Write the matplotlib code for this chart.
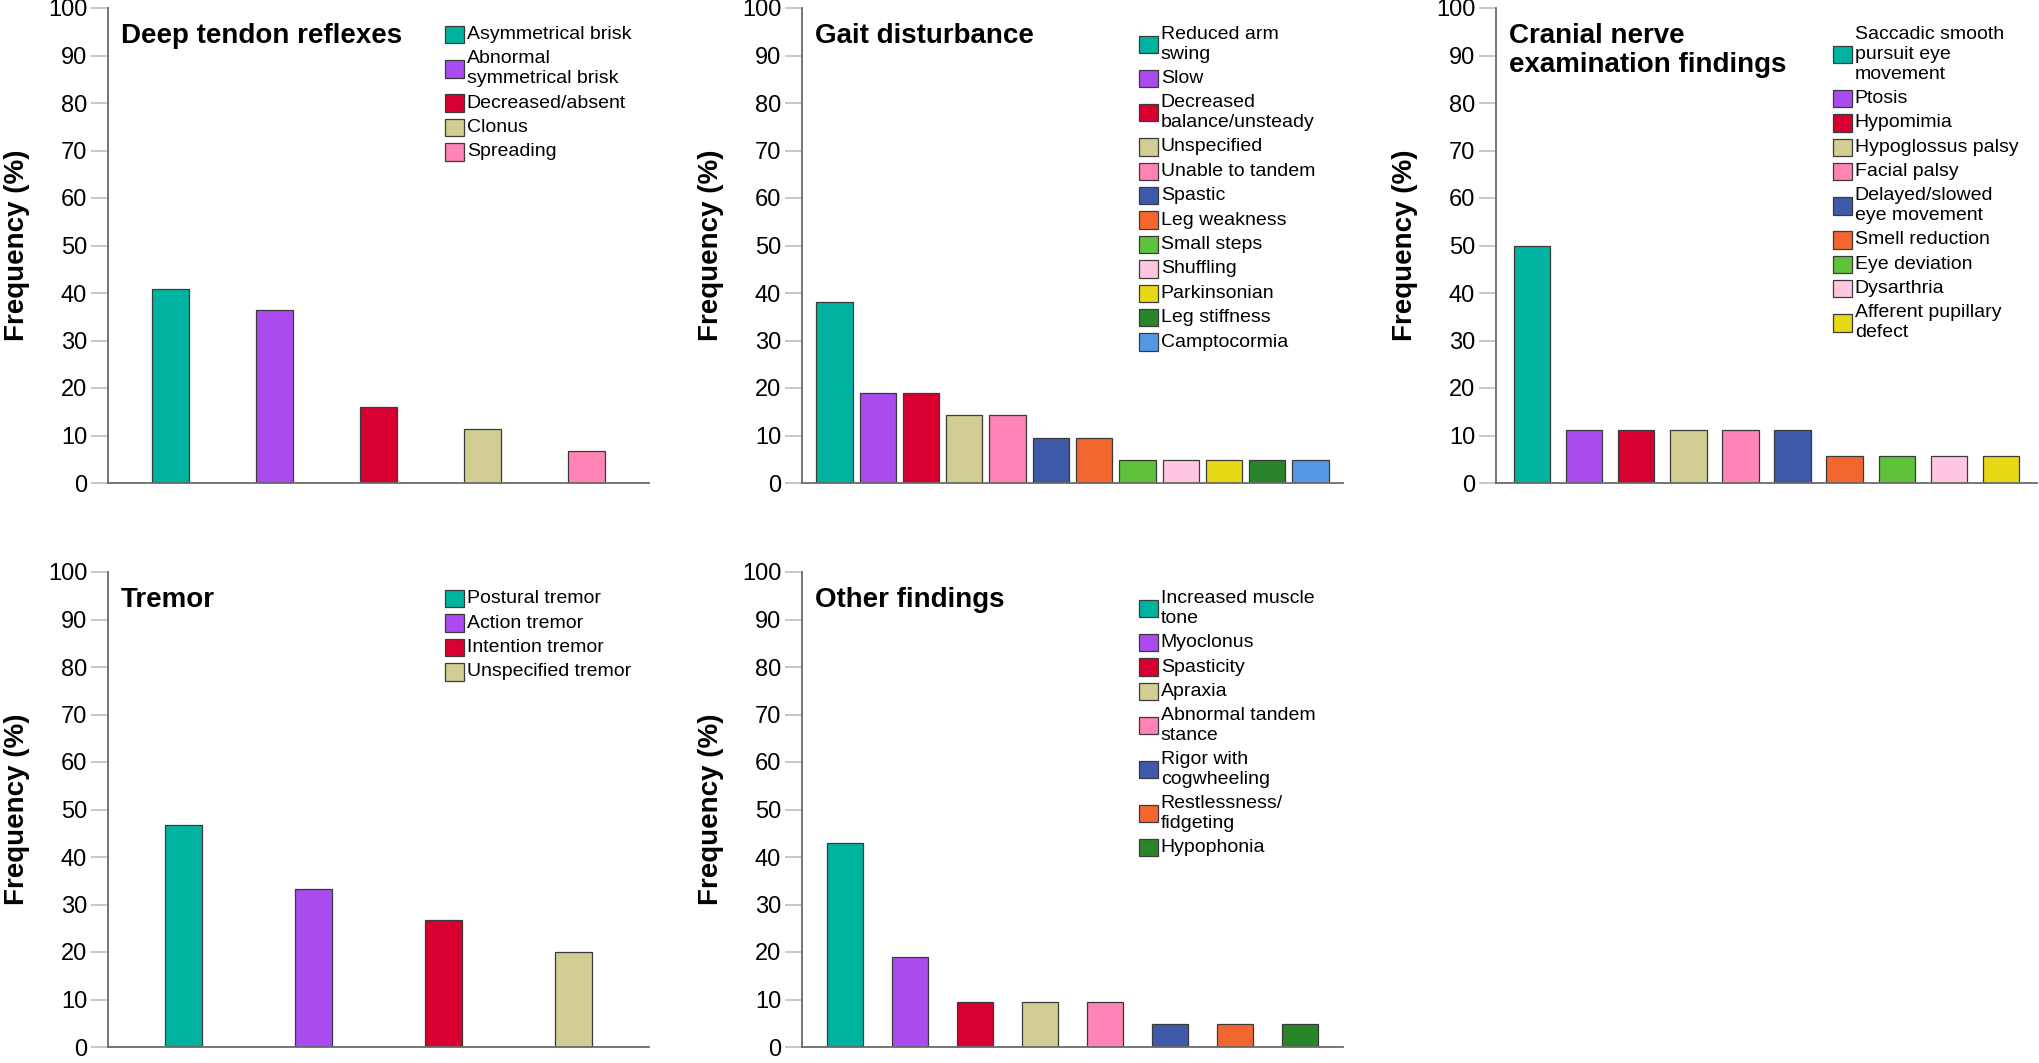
# -----------------------------------------------------------
# FRECUENCIA DE HALLAZGOS NEUROLOGICOS
# -----------------------------------------------------------

import matplotlib.pyplot as plt

plt.rcParams['font.family'] = ['Liberation Sans', 'DejaVu Sans']

# Paleta de colores
teal = "#00B3A0"
morado = "#A94BEF"
rojo = "#D70030"
caqui = "#D2CD93"
rosa = "#FF83B4"
azul = "#3E59A8"
naranja = "#F3672E"
verde = "#5EC23A"
rosa_claro = "#FFC6E2"
amarillo = "#E6D814"
verde_oscuro = "#2A852A"
celeste = "#5397E5"

# Deep tendon reflexes
reflejos_etiquetas = ["Asymmetrical brisk", "Abnormal\nsymmetrical brisk",
                      "Decreased/absent", "Clonus", "Spreading"]
reflejos_valores = [40.9, 36.4, 15.9, 11.4, 6.8]
reflejos_colores = [teal, morado, rojo, caqui, rosa]

# Gait disturbance
marcha_etiquetas = ["Reduced arm\nswing", "Slow", "Decreased\nbalance/unsteady",
                    "Unspecified", "Unable to tandem", "Spastic", "Leg weakness",
                    "Small steps", "Shuffling", "Parkinsonian", "Leg stiffness",
                    "Camptocormia"]
marcha_valores = [38.1, 19.0, 19.0, 14.3, 14.3, 9.5, 9.5, 4.8, 4.8, 4.8, 4.8, 4.8]
marcha_colores = [teal, morado, rojo, caqui, rosa, azul, naranja, verde,
                  rosa_claro, amarillo, verde_oscuro, celeste]

# Cranial nerve examination findings
craneal_etiquetas = ["Saccadic smooth\npursuit eye\nmovement", "Ptosis", "Hypomimia",
                     "Hypoglossus palsy", "Facial palsy",
                     "Delayed/slowed\neye movement", "Smell reduction",
                     "Eye deviation", "Dysarthria", "Afferent pupillary\ndefect"]
craneal_valores = [50.0, 11.1, 11.1, 11.1, 11.1, 11.1, 5.6, 5.6, 5.6, 5.6]
craneal_colores = [teal, morado, rojo, caqui, rosa, azul, naranja, verde,
                   rosa_claro, amarillo]

# Tremor
temblor_etiquetas = ["Postural tremor", "Action tremor", "Intention tremor",
                     "Unspecified tremor"]
temblor_valores = [46.7, 33.3, 26.7, 20.0]
temblor_colores = [teal, morado, rojo, caqui]

# Other findings
otros_etiquetas = ["Increased muscle\ntone", "Myoclonus", "Spasticity", "Apraxia",
                   "Abnormal tandem\nstance", "Rigor with\ncogwheeling",
                   "Restlessness/\nfidgeting", "Hypophonia"]
otros_valores = [42.9, 19.0, 9.5, 9.5, 9.5, 4.8, 4.8, 4.8]
otros_colores = [teal, morado, rojo, caqui, rosa, azul, naranja, verde_oscuro]

# -----------------------------------------------------------
# FUNCION DE PANEL
# -----------------------------------------------------------

def panel(ax, titulo, etiquetas, valores, colores, ancho, margen):

    n = len(valores)
    x = list(range(n))

    # Barras
    barras = ax.bar(x, valores, width=ancho, color=colores,
                    edgecolor="#3a3a3a", linewidth=0.9)

    # Ejes
    ax.set_xlim(-margen, n - 1 + margen)
    ax.set_ylim(0, 100)
    ax.set_yticks(range(0, 101, 10))
    ax.set_xticks([])
    ax.spines['top'].set_visible(False)
    ax.spines['right'].set_visible(False)
    ax.spines['left'].set_color("#6a6a6a")
    ax.spines['bottom'].set_color("#6a6a6a")
    ax.spines['left'].set_linewidth(1.3)
    ax.spines['bottom'].set_linewidth(1.3)
    ax.tick_params(axis='y', length=12, width=1.3, color="#c4c4c4",
                   labelsize=17, pad=3)
    ax.set_ylabel("Frequency (%)", fontsize=20, fontweight='bold', labelpad=13)

    # Titulo dentro del panel
    ax.text(0.024, 0.968, titulo, transform=ax.transAxes, fontsize=20,
            fontweight='bold', va='top', ha='left', linespacing=1.12)

    # Leyenda
    leyenda = ax.legend(barras, etiquetas, loc='upper left',
                        bbox_to_anchor=(0.622, 0.962), frameon=False,
                        fontsize=14, handlelength=1.0, handleheight=1.0,
                        handletextpad=0.15, labelspacing=0.36,
                        borderpad=0, borderaxespad=0)
    for t in leyenda.get_texts():
        t.set_linespacing(1.22)
    for caja in leyenda._legend_handle_box.get_children():
        for fila in caja.get_children():
            fila.align = 'center'

# -----------------------------------------------------------
# FIGURA
# -----------------------------------------------------------

fig = plt.figure(figsize=(20.4, 10.63), dpi=100)

ancho_ax = 541 / 2040
alto_ax = 475 / 1063

ax1 = fig.add_axes([108 / 2040, 1 - 483 / 1063, ancho_ax, alto_ax])
ax2 = fig.add_axes([802 / 2040, 1 - 483 / 1063, ancho_ax, alto_ax])
ax3 = fig.add_axes([1496 / 2040, 1 - 483 / 1063, ancho_ax, alto_ax])
ax4 = fig.add_axes([108 / 2040, 1 - 1047 / 1063, ancho_ax, alto_ax])
ax5 = fig.add_axes([802 / 2040, 1 - 1047 / 1063, ancho_ax, alto_ax])

panel(ax1, "Deep tendon reflexes", reflejos_etiquetas, reflejos_valores,
      reflejos_colores, 0.35, 0.6)
panel(ax2, "Gait disturbance", marcha_etiquetas, marcha_valores,
      marcha_colores, 0.84, 0.75)
panel(ax3, "Cranial nerve\nexamination findings", craneal_etiquetas,
      craneal_valores, craneal_colores, 0.7, 0.69)
panel(ax4, "Tremor", temblor_etiquetas, temblor_valores,
      temblor_colores, 0.28, 0.58)
panel(ax5, "Other findings", otros_etiquetas, otros_valores,
      otros_colores, 0.56, 0.66)

# Guardamos
fig.savefig("out.png", dpi=100)
